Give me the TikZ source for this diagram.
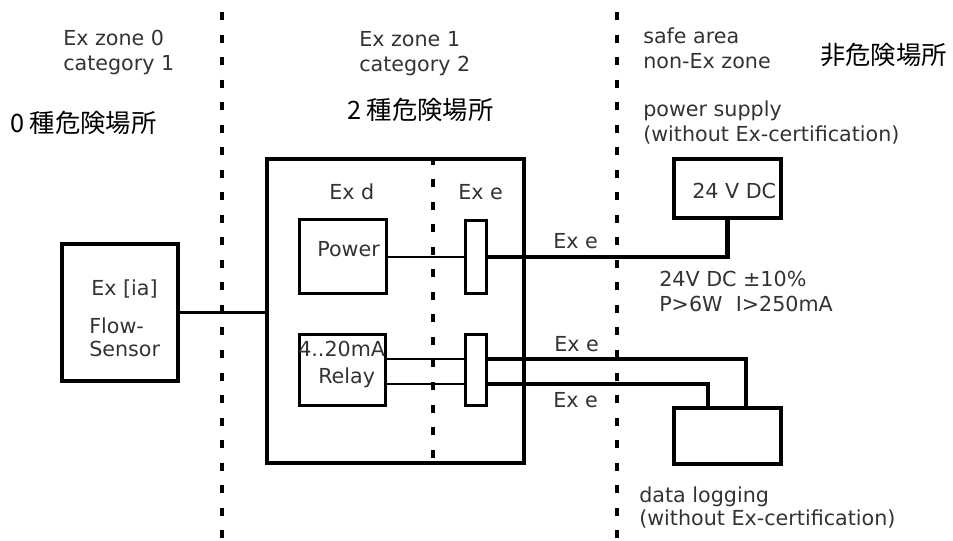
\documentclass[tikz,border=0pt]{standalone}
\usepackage{fontspec}
\setmainfont{DejaVu Sans}
\newfontfamily\jpfont{Noto Sans CJK JP}
\tikzset{
  zoneline/.style={line width=3.4pt, dash pattern=on 6pt off 10.9pt},
  unit/.style={draw, line width=2.25pt, inner sep=0pt},
  housing/.style={draw, line width=3.5pt, inner sep=0pt},
  txt/.style={inner sep=0pt, anchor=base west, align=left, text=black!80},
  jp/.style={inner sep=0pt, anchor=west, font=\jpfont\fontsize{19}{22}\selectfont},
  wire/.style={line width=1.75pt},
  cable/.style={line width=3.5pt}
}
\begin{document}
\begin{tikzpicture}[x=0.75pt, y=-0.75pt, font=\fontsize{15.5}{18.75}\selectfont]
				\useasboundingbox (0,0) rectangle (953,541);
				% zone borders
				\coordinate (mid) at (433,0);
				\draw[zoneline] (222,12) -- (222,541);
				\draw[zoneline] (617,12) -- (617,541);
				% boxes
				\node[housing, minimum width=192.75pt, minimum height=228pt] (encl) at (395.5,311) {};
				\node[housing, minimum width=87pt, minimum height=102.75pt] (sensor) at (120,312.5) {};
				\node[unit, minimum width=65.25pt, minimum height=55.5pt] (power) at (343,257) {};
				\node[unit, minimum width=64.5pt, minimum height=53.25pt] (relay) at (342.5,370) {};
				\node[unit, minimum width=15.75pt, minimum height=54.75pt] (term1) at (476,257) {};
				\node[unit, minimum width=15.75pt, minimum height=53.25pt] (term2) at (476,370) {};
				\node[housing, minimum width=80.25pt, minimum height=44.25pt] (psu) at (727.5,188.5) {};
				\node[housing, minimum width=80.25pt, minimum height=42pt] (logger) at (727.5,436) {};
				\draw[zoneline] (mid |- encl.north) -- (mid |- encl.south);
				% wiring
				\draw[cable, line width=2.5pt] (sensor.east) -- (sensor.east -| encl.west);
				\draw[wire] (power.east) -- (term1.west);
				\draw[cable] (term1.east) -| (psu.south);
				\draw[wire] ([yshift=8.25pt]relay.east) -- ([yshift=8.25pt]term2.west);
				\draw[wire] ([yshift=-10.5pt]relay.east) -- ([yshift=-10.5pt]term2.west);
				\draw[cable] ([yshift=8.25pt]term2.east) -| ([xshift=13.9pt]logger.north);
				\draw[cable] ([yshift=-10.5pt]term2.east) -| ([xshift=-14.6pt]logger.north);
				% texts (multi-line: base = last line)
				\node[txt] (zone0) at (63,71) {Ex zone 0\\category 1};
				\node[txt] (zone1) at (359,72) {Ex zone 1\\category 2};
				\node[txt] (safe) at (643,69) {safe area\\non-Ex zone};
				\node[txt] (psutxt) at (643,142) {power supply\\(without Ex-certification)};
				\node[txt] (logtxt) at (639,525) {data logging\\[-1.5pt](without Ex-certification)};
				\node[txt] (spec) at (659,312) {24V DC ±10\%\\P>6W~~I>250mA};
				\node[txt] (dc) at (692,199) {24 V DC};
				\node[txt] (exe1) at (553,249) {Ex e};
				\node[txt] (exe2) at (554,352) {Ex e};
				\node[txt] (exe3) at (553,407) {Ex e};
				\node[txt] (exd) at (329,200) {Ex d};
				\node[txt] (exe0) at (458,200) {Ex e};
				\node[txt] (pwrtxt) at (317,257) {Power};
				\node[txt] (matxt) at (298,357) {4..20mA};
				\node[txt] (rlytxt) at (318,384) {Relay};
				\node[txt] (iatxt) at (91,296) {Ex [ia]};
				\node[txt] (flowtxt) at (89,357) {Flow-\\[-1.5pt]Sensor};
				\node[jp] (jp0) at (10,123) {0 種危険場所};
				\node[jp] (jp2) at (347,110) {2 種危険場所};
				\node[jp] (jpsafe) at (820,55) {非危険場所};
			\end{tikzpicture}
\end{document}
